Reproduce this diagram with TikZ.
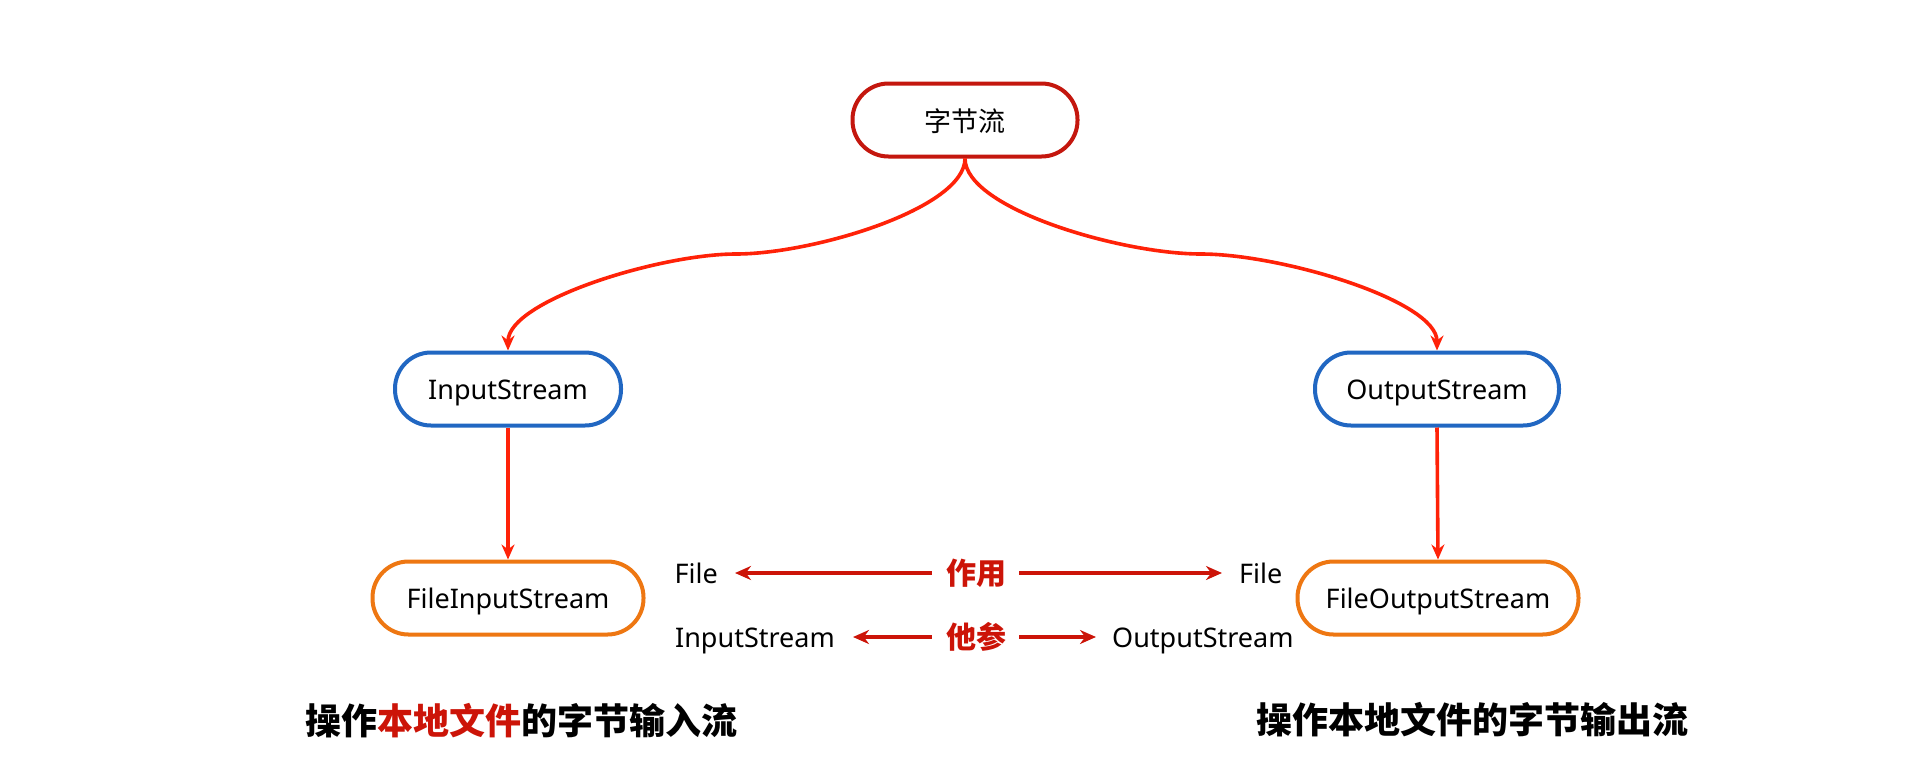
\documentclass[tikz,border=0pt]{standalone}
\usepackage{fontspec}
\setmainfont{Noto Sans}
\newfontfamily\cjk{Noto Sans CJK SC}
\newfontfamily\cjkheavy{Noto Sans CJK SC Black}
\usetikzlibrary{arrows.meta}
\definecolor{topred}{HTML}{C4170E}
\definecolor{arrred}{HTML}{FF2208}
\definecolor{midred}{HTML}{CC1408}
\definecolor{nblue}{HTML}{2167C2}
\definecolor{norange}{HTML}{EE7712}
\tikzset{
  pill/.style={draw, line width=4pt, rounded corners=36pt, minimum height=73pt, inner sep=0pt, text height=20pt, text depth=0pt, fill=white, font=\fontsize{27}{32}\selectfont},
  topbox/.style={pill, draw=topred},
  bluebox/.style={pill, draw=nblue},
  orangebox/.style={pill, draw=norange},
  link/.style={draw=arrred, line width=3.6pt, -{Stealth[length=15pt,width=13pt]}},
  midarrow/.style={draw=midred, line width=4.5pt, -{Stealth[length=16pt,width=14pt]}},
  lbl/.style={inner sep=0pt, text height=20pt, text depth=0pt, font=\fontsize{27}{32}\selectfont},
  keyword/.style={inner sep=0pt, text height=25pt, text depth=2pt, text=midred, font=\cjkheavy\fontsize{30}{36}\selectfont},
  caption/.style={inner sep=0pt, font=\cjkheavy\fontsize{36}{40}\selectfont},
}
\begin{document}
\begin{tikzpicture}[x=1pt,y=-1pt]
\useasboundingbox[fill=white] (0,0) rectangle (1920,780);

\node[topbox, minimum width=225pt, text height=22pt] (root) at (965,120) {\cjk 字节流};
\node[bluebox, minimum width=226pt] (ins) at (508,389) {InputStream};
\node[bluebox, minimum width=244pt] (outs) at (1437,389) {OutputStream};
\node[orangebox, minimum width=271pt] (fins) at (508,598) {FileInputStream};
\node[orangebox, minimum width=281pt] (fouts) at (1438,598) {FileOutputStream};

\coordinate (m1) at (736,254);
\coordinate (m2) at (1201,254);
\draw[link] (root.south) .. controls +(0,50) and +(77,0) .. (m1)
  .. controls +(-76,0) and +(0,-50) .. (ins.north);
\draw[link] (root.south) .. controls +(0,50) and +(-80,0) .. (m2)
  .. controls +(80,0) and +(0,-50) .. (outs.north);
\draw[link] (ins.south) -- (fins.north);
\draw[link] (outs.south) -- (fouts.north);

\node[keyword] (k1) at (976,573) {作用};
\node[keyword] (k2) at (976,637) {他参};
\node[lbl, anchor=east] (fl) at (718,573) {File};
\node[lbl, anchor=west] (fr) at (1239,573) {File};
\node[lbl, anchor=east] (il) at (835,637) {InputStream};
\node[lbl, anchor=west] (ol) at (1112,637) {OutputStream};

\draw[midarrow, shorten <=14pt, shorten >=17pt] (k1.west) -- (fl.east);
\draw[midarrow, shorten <=13pt, shorten >=17pt] (k1.east) -- (fr.west);
\draw[midarrow, shorten <=14pt, shorten >=18pt] (k2.west) -- (il.east);
\draw[midarrow, shorten <=13pt, shorten >=16pt] (k2.east) -- (ol.west);

\node[caption] (c1) at (521,721) {操作\textcolor{midred}{本地文件}的字节输入流};
\node[caption] (c2) at (1472,720) {操作本地文件的字节输出流};
\end{tikzpicture}
\end{document}
